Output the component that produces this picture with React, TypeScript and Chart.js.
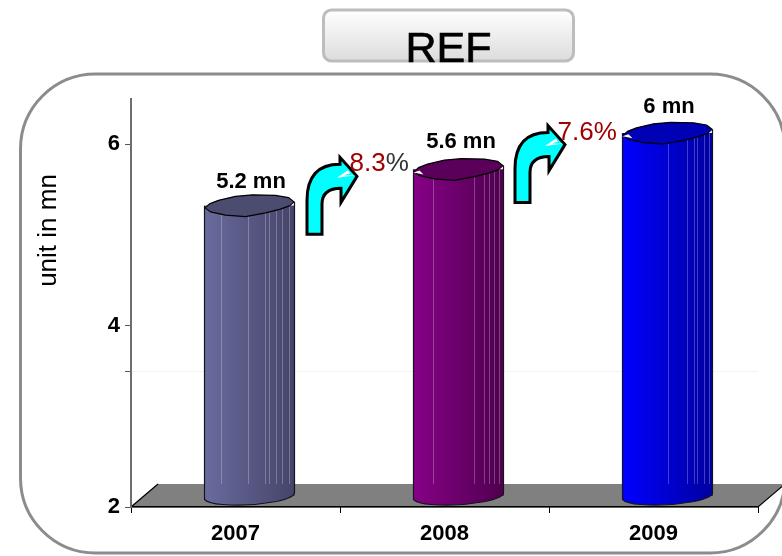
import { useEffect, useRef } from "react";
import { Chart, registerables } from "chart.js";

Chart.register(...registerables);

const categories = ["2007", "2008", "2009"];
const values = [5.2, 5.6, 6];
const valueLabels = ["5.2 mn", "5.6 mn", "6 mn"];
const growthNumbers = ["8.3", "7.6"];
const yTicks = [2, 3.5, 4, 6];
const headline = "REF";
const yTitle = "unit in mn";

const FONT = '"Liberation Sans", Arial, sans-serif';
const gradientStops = [
  ["#6a6a9e", "#45456a"],
  ["#860086", "#4f004f"],
  ["#0000ff", "#0000a0"],
];
const capColors = ["#4c4c70", "#5a005a", "#0000b4"];
const percentColors = ["#333333", "#a00000"];
const stripeFractions = [
  [0.185, 0.48, 0.667, 0.72, 0.79, 0.86, 0.94],
  [0.22, 0.67, 0.78, 0.84, 0.89, 0.95],
  [0.5, 0.72, 0.79, 0.83, 0.91, 0.96],
];
const labelNudgeX = [1.5, 2.5, 1.5];
const labelNudgeY = [-18, -22, -20];
const arrowNudgeX = [121.5, 120.5];
const arrowNudgeY = [-40.5, -36];

// The floor is drawn with depth, and the columns stand halfway back on it.
const DEPTH_X = 27;
const DEPTH_Y = 23;
const SHIFT_X = 14;
const SHIFT_Y = -11;

const capOutline = [
  [-44.5, 2], [-40, -2], [-31, -5.5], [-14, -9.5], [3, -11], [26, -10.5], [39, -8.3], [44.5, -4],
  [40, 0], [30, 3.5], [16, 7], [-4, 10.7], [-24, 9.3], [-39, 6],
];

function barGradient(ctx: CanvasRenderingContext2D, cx: number, i: number) {
  if (!Number.isFinite(cx)) return gradientStops[i][0];
  const g = ctx.createLinearGradient(cx - 45, 0, cx + 45, 0);
  g.addColorStop(0, gradientStops[i][0]);
  g.addColorStop(1, gradientStops[i][1]);
  return g;
}

function tracePanel(ctx: CanvasRenderingContext2D) {
  ctx.beginPath();
  ctx.roundRect(20.5, 74, 764.5, 479, 75);
}

function drawArrow(ctx: CanvasRenderingContext2D, x: number, y: number) {
  ctx.save();
  ctx.translate(x, y);
  ctx.beginPath();
  ctx.moveTo(-50, 58);
  ctx.lineTo(-35, 58);
  ctx.lineTo(-35, 28);
  ctx.quadraticCurveTo(-35, 12, -16, 12);
  ctx.lineTo(-16, 26);
  ctx.lineTo(0, 0);
  ctx.lineTo(-17, -19);
  ctx.lineTo(-17, -12);
  ctx.quadraticCurveTo(-50, -12, -50, 24);
  ctx.closePath();
  ctx.fillStyle = "#00ffff";
  ctx.fill();
  ctx.strokeStyle = "#000000";
  ctx.lineWidth = 3;
  ctx.lineJoin = "miter";
  ctx.stroke();
  // Small white nick across the arrow head
  ctx.beginPath();
  ctx.moveTo(-20, 1.5);
  ctx.lineTo(-9, -6);
  ctx.lineTo(-7, -3);
  ctx.lineTo(-13, -1);
  ctx.lineTo(-1, -1);
  ctx.closePath();
  ctx.fillStyle = "#ffffff";
  ctx.fill();
  ctx.restore();
}

const cylinderPlugin = {
  id: "cylinders",
  beforeDraw(chart: any) {
    const { ctx, chartArea } = chart;
    ctx.save();
    ctx.fillStyle = "#ffffff";
    ctx.fillRect(0, 0, chart.width, chart.height);
    tracePanel(ctx);
    ctx.strokeStyle = "#8c8c8c";
    ctx.lineWidth = 3;
    ctx.stroke();

    // Floor of the plot
    const { left, right, bottom } = chartArea;
    ctx.beginPath();
    ctx.moveTo(left, bottom);
    ctx.lineTo(left + DEPTH_X, bottom - DEPTH_Y);
    ctx.lineTo(right + DEPTH_X, bottom - DEPTH_Y);
    ctx.lineTo(right, bottom);
    ctx.closePath();
    ctx.fillStyle = "#808080";
    ctx.fill();
    ctx.beginPath();
    ctx.moveTo(left + DEPTH_X, bottom - DEPTH_Y);
    ctx.lineTo(left, bottom);
    ctx.lineTo(right, bottom);
    ctx.lineTo(right + DEPTH_X, bottom - DEPTH_Y);
    ctx.strokeStyle = "#000000";
    ctx.lineWidth = 1.2;
    ctx.stroke();
    ctx.restore();
  },
  beforeDatasetDraw(chart: any) {
    chart.ctx.save();
    chart.ctx.translate(SHIFT_X, SHIFT_Y);
  },
  afterDatasetDraw(chart: any, args: any) {
    const { ctx, chartArea, scales } = chart;
    ctx.restore();
    const elements = args.meta.data;
    elements.forEach((el: any, i: number) => {
      const cx = el.x + SHIFT_X;
      const cy = el.y + SHIFT_Y;
      const base = el.base + SHIFT_Y;
      const half = el.width / 2;
      ctx.save();

      // Rounded foot of the column
      ctx.beginPath();
      ctx.moveTo(cx - half, base - 1);
      ctx.lineTo(cx - half, base + 4);
      ctx.quadraticCurveTo(cx - half + 4, base + 8, cx - half + 18, base + 9);
      ctx.quadraticCurveTo(cx, base + 11, cx + 27, base + 6);
      ctx.quadraticCurveTo(cx + half, base + 2, cx + half, base - 3);
      ctx.closePath();
      ctx.fillStyle = barGradient(ctx, cx, i);
      ctx.fill();
      ctx.beginPath();
      ctx.moveTo(cx - half, cy);
      ctx.lineTo(cx - half, base + 4);
      ctx.quadraticCurveTo(cx - half + 4, base + 8, cx - half + 18, base + 9);
      ctx.quadraticCurveTo(cx, base + 11, cx + 27, base + 6);
      ctx.quadraticCurveTo(cx + half, base + 2, cx + half, base - 3);
      ctx.lineTo(cx + half, cy - 4);
      ctx.strokeStyle = "#14141e";
      ctx.lineWidth = 1.2;
      ctx.stroke();

      // Pale facet lines that stop at the back of the floor
      ctx.strokeStyle = "rgba(255,255,255,0.25)";
      ctx.lineWidth = 1;
      stripeFractions[i].forEach((f) => {
        const sx = Math.round(cx - half + f * el.width) + 0.5;
        ctx.beginPath();
        ctx.moveTo(sx, cy);
        ctx.lineTo(sx, chartArea.bottom - DEPTH_Y);
        ctx.stroke();
      });

      // Uneven top of the column
      ctx.beginPath();
      capOutline.forEach((p, k) => {
        if (k === 0) ctx.moveTo(cx + p[0], cy + p[1]);
        else ctx.lineTo(cx + p[0], cy + p[1]);
      });
      ctx.closePath();
      ctx.fillStyle = capColors[i];
      ctx.fill();
      ctx.strokeStyle = "#000000";
      ctx.lineWidth = 1.2;
      ctx.lineJoin = "round";
      ctx.stroke();

      if (i > 0) {
        ctx.beginPath();
        ctx.moveTo(cx - 45, cy + 3);
        ctx.lineTo(cx - 35, cy + 5);
        ctx.lineTo(cx - 39, cy + 1);
        ctx.closePath();
        ctx.fillStyle = "#ffffff";
        ctx.fill();
      }

      // Value above the column
      ctx.fillStyle = "#000000";
      ctx.font = `bold 22px ${FONT}`;
      ctx.textAlign = "center";
      ctx.textBaseline = "alphabetic";
      ctx.fillText(valueLabels[i], cx + labelNudgeX[i], cy + labelNudgeY[i]);
      ctx.restore();
    });

    // Growth arrows between neighbouring years
    growthNumbers.forEach((num, i) => {
      const tipX = elements[i].x + arrowNudgeX[i];
      const tipY = scales.y.getPixelForValue(values[i]) + arrowNudgeY[i];
      drawArrow(ctx, tipX, tipY);
      ctx.save();
      ctx.font = `26px ${FONT}`;
      ctx.textAlign = "left";
      ctx.textBaseline = "alphabetic";
      const tx = tipX - 7.5;
      const ty = tipY - 5;
      ctx.fillStyle = "#a00000";
      ctx.fillText(num, tx, ty);
      ctx.fillStyle = percentColors[i];
      ctx.fillText("%", tx + ctx.measureText(num).width, ty);
      ctx.restore();
    });
  },
  afterDraw(chart: any) {
    const { ctx, chartArea } = chart;
    ctx.save();
    // Heading plate
    ctx.beginPath();
    ctx.roundRect(323.5, 10, 250, 51, 8);
    const g = ctx.createLinearGradient(0, 10, 0, 61);
    g.addColorStop(0, "#ffffff");
    g.addColorStop(1, "#dcdcdc");
    ctx.fillStyle = g;
    ctx.fill();
    ctx.strokeStyle = "#bdbdbd";
    ctx.lineWidth = 3;
    ctx.stroke();
    ctx.fillStyle = "#000000";
    ctx.font = `43px ${FONT}`;
    ctx.textAlign = "center";
    ctx.textBaseline = "alphabetic";
    ctx.fillText(headline, 448.5, 62);
    ctx.strokeStyle = "#000000";
    ctx.lineWidth = 0.7;
    ctx.strokeText(headline, 448.5, 62);

    // Rotated axis caption
    ctx.translate(55.5, chartArea.top + 131.5);
    ctx.rotate(-Math.PI / 2);
    ctx.font = `26px ${FONT}`;
    ctx.fillText(yTitle, 0, 0);
    ctx.restore();
  },
};

export default function App() {
  const canvasRef = useRef<HTMLCanvasElement>(null);

  useEffect(() => {
    document.body.style.margin = "0";
    const chart = new Chart(canvasRef.current as HTMLCanvasElement, {
      type: "bar",
      data: {
        labels: categories,
        datasets: [
          {
            data: values,
            base: 2,
            barThickness: 90,
            clip: false,
            backgroundColor: (c: any) =>
              barGradient(c.chart.ctx, c.chart.scales.x.getPixelForValue(c.dataIndex), c.dataIndex),
          } as any,
        ],
      },
      options: {
        animation: false,
        responsive: false,
        layout: { padding: { top: 99, right: 24, left: 0, bottom: 0 } },
        plugins: { legend: { display: false }, tooltip: { enabled: false }, title: { display: false } },
        scales: {
          x: {
            afterFit: (s: any) => { s.height = 49; },
            border: { color: "#000000", width: 1.2 },
            grid: { drawOnChartArea: false, tickLength: 6, tickColor: "#000000" },
            ticks: { color: "#000000", font: { family: FONT, size: 22, weight: "bold" }, padding: 8, maxRotation: 0 },
          },
          y: {
            min: 2,
            max: 6.5,
            afterFit: (s: any) => { s.width = 131; },
            afterBuildTicks: (s: any) => { s.ticks = yTicks.map((value) => ({ value })); },
            border: { color: "#6e6e6e", width: 2 },
            grid: {
              tickLength: 6,
              tickColor: "#555555",
              color: (c: any) => (c.tick && c.tick.value === 3.5 ? "#f3f3f3" : "rgba(0,0,0,0)"),
            },
            ticks: {
              color: "#000000",
              autoSkip: false,
              font: { family: FONT, size: 22, weight: "bold" },
              padding: 5,
              callback: (v: any) => (v === 3.5 ? "" : String(v)),
            },
          },
        },
      } as any,
      plugins: [cylinderPlugin],
    });
    return () => chart.destroy();
  }, []);

  return <canvas ref={canvasRef} width={782} height={556} style={{ display: "block" }} />;
}
